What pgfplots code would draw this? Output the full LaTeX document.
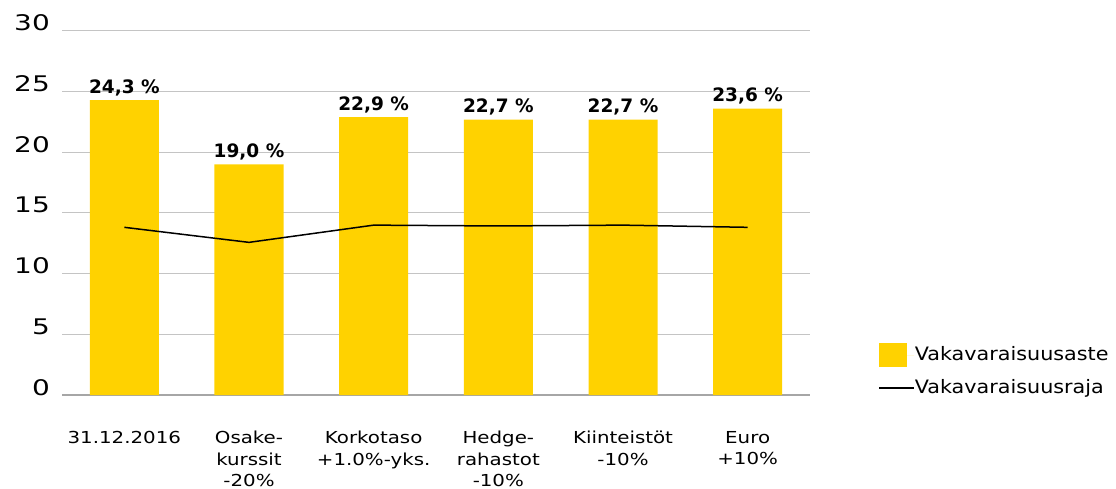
\documentclass[border=0pt]{standalone}
\usepackage{fontspec}
\setmainfont{DejaVu Sans}[UprightFeatures={FakeStretch=1.12}]
\newfontfamily\tickfont{DejaVu Sans}[FakeStretch=1.3]
\newfontfamily\xlabfont{DejaVu Sans}[FakeStretch=1.2]
\usepackage{pgfplots}
\pgfplotsset{compat=1.18}
\definecolor{barY}{HTML}{FFD200}
\definecolor{gridG}{HTML}{C4C4C4}
\definecolor{baseG}{HTML}{A6A6A6}
\begin{document}
\begin{tikzpicture}
\begin{axis}[
  scale only axis, width=748bp, height=364bp,
  xmin=-0.5, xmax=5.5, ymin=0, ymax=30,
  xtick={0,1,2,3,4,5},
  xticklabels={31.12.2016, {Osake-\\kurssit\\-20\%}, {Korkotaso\\+1.0\%-yks.}, {Hedge-\\rahastot\\-10\%}, {Kiinteistöt\\-10\%}, {Euro\\+10\%}},
  ytick={0,5,10,15,20,25,30},
  /pgf/number format/assume math mode=true,
  ymajorgrids, grid style={gridG, line width=1bp},
  axis x line*=bottom, axis y line*=left,
  y axis line style={draw=none},
  x axis line style={baseG, line width=2bp, -},
  major tick length=0pt,
  yticklabel style={font=\tickfont\fontsize{21.5bp}{24bp}\selectfont, anchor=base east, inner sep=0pt, xshift=-12bp},
  xticklabel style={font=\xlabfont\fontsize{16.5bp}{21.5bp}\selectfont, align=center, anchor=north, inner sep=0pt, yshift=-36bp},
  legend style={at={(axis description cs:1.091,0.143)}, anchor=north west, draw=none, fill=none, inner sep=0pt,
    font=\fontsize{18.5bp}{20bp}\selectfont, row sep=12bp,
    nodes={inner sep=0pt, text height=14bp, text depth=4bp}},
  legend cell align=left,
]
\addplot[ybar, bar width=69bp, fill=barY, draw=none,
  legend image code/.code={\fill[barY] (0bp,-12bp) rectangle (28bp,12bp); \path (0bp,0bp) -- (35bp,0bp);},
  nodes near coords={\pgfmathprintnumber[fixed,fixed zerofill,precision=1,use comma]{\pgfplotspointmeta}~\%},
  nodes near coords style={font=\bfseries\fontsize{18.5bp}{20bp}\selectfont, anchor=base, inner sep=0pt, yshift=7bp, black}]
  coordinates {(0,24.3) (1,19.0) (2,22.9) (3,22.7) (4,22.7) (5,23.6)};
\addlegendentry{Vakavaraisuusaste}
\addplot[black, line width=1.5bp, mark=none,
  legend image code/.code={\draw[black, line width=1.5bp] (0bp,0bp) -- (28bp,0bp); \path (0bp,0bp) -- (35bp,0bp);}]
  coordinates {(0,13.82) (1,12.58) (2,14.0) (3,13.93) (4,14.0) (5,13.82)};
\addlegendentry{Vakavaraisuusraja}
\end{axis}
\pgfresetboundingbox
\path (-62bp,-94bp) rectangle (1054bp,395bp);
\end{tikzpicture}
\end{document}
